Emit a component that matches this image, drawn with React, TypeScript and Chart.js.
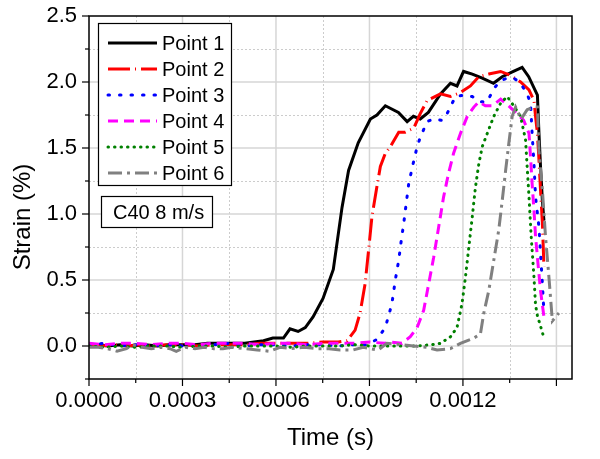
import React, { useEffect, useRef } from 'react';
import { Chart, registerables } from 'chart.js';

Chart.register(...registerables);

const FONT = '"Liberation Sans", Arial, Helvetica, sans-serif';

const SERIES_NAMES = ['Point 1', 'Point 2', 'Point 3', 'Point 4', 'Point 5', 'Point 6'];
const SERIES_COLORS = ['#000000', '#ff0000', '#0000ff', '#ff00ff', '#008000', '#808080'];
const SERIES_DASH: number[][] = [[], [22, 5, 1, 5], [1.5, 10], [10, 6], [0.5, 6], [14, 5, 3, 5]];
const SERIES_CAP = ['butt', 'butt', 'round', 'butt', 'round', 'butt'];

const X_TICKS = [0, 0.0003, 0.0006, 0.0009, 0.0012, 0.0015];
const X_MINOR = [0.00015, 0.00045, 0.00075, 0.00105, 0.00135];
const Y_TICKS = [0, 0.5, 1.0, 1.5, 2.0, 2.5];
const Y_MINOR = [-0.25, 0.25, 0.75, 1.25, 1.75, 2.25];

const P1_T = [0, 0.00003, 0.00006, 0.0001, 0.00014, 0.00018, 0.00022, 0.00026, 0.0003, 0.00034, 0.00038, 0.00042, 0.00046, 0.0005, 0.00053, 0.00056, 0.00059, 0.000613, 0.000624, 0.000645, 0.000671, 0.000694, 0.000719, 0.000751, 0.000784, 0.000812, 0.000833, 0.000864, 0.000903, 0.000924, 0.000951, 0.000993, 0.001021, 0.001041, 0.001063, 0.001089, 0.001128, 0.00116, 0.001181, 0.001202, 0.00123, 0.001262, 0.001298, 0.001326, 0.001362, 0.00139, 0.001411, 0.001439, 0.001444, 0.001449, 0.001455, 0.00146];
const P1_S = [0.00, 0.01, 0.00, 0.01, 0.00, 0.01, 0.00, 0.01, 0.01, 0.01, 0.02, 0.02, 0.02, 0.02, 0.03, 0.04, 0.06, 0.06, 0.06, 0.13, 0.11, 0.14, 0.22, 0.36, 0.58, 1.05, 1.33, 1.54, 1.72, 1.75, 1.82, 1.77, 1.70, 1.74, 1.72, 1.77, 1.91, 1.99, 1.97, 2.08, 2.06, 2.03, 1.99, 2.04, 2.08, 2.11, 2.04, 1.90, 1.61, 1.36, 1.10, 0.95];

const P2_T = [0, 0.00004, 0.00008, 0.00012, 0.00016, 0.0002, 0.00025, 0.0003, 0.00035, 0.0004, 0.00045, 0.0005, 0.00055, 0.0006, 0.00065, 0.0007, 0.00075, 0.0008, 0.000828, 0.000854, 0.00087, 0.000886, 0.000897, 0.000908, 0.000922, 0.000935, 0.000951, 0.000967, 0.000994, 0.001015, 0.001042, 0.001063, 0.001085, 0.001128, 0.00116, 0.001192, 0.001224, 0.001251, 0.001283, 0.001321, 0.001353, 0.001385, 0.001412, 0.001428, 0.001433, 0.001439, 0.001444, 0.001449, 0.001455, 0.00146];
const P2_S = [0.01, 0.00, 0.01, 0.00, 0.01, 0.00, 0.01, 0.01, 0.00, 0.01, 0.01, 0.01, 0.02, 0.02, 0.02, 0.02, 0.03, 0.03, 0.04, 0.12, 0.25, 0.47, 0.72, 0.98, 1.18, 1.36, 1.46, 1.51, 1.62, 1.62, 1.65, 1.76, 1.86, 1.91, 1.89, 1.92, 1.97, 2.04, 2.06, 2.08, 2.05, 2.00, 1.94, 1.86, 1.74, 1.61, 1.41, 1.18, 0.93, 0.60];

const P3_T = [0, 0.00005, 0.0001, 0.00015, 0.0002, 0.00025, 0.0003, 0.00035, 0.0004, 0.00045, 0.0005, 0.00055, 0.0006, 0.00065, 0.0007, 0.00075, 0.0008, 0.00085, 0.000892, 0.000924, 0.000951, 0.000972, 0.000983, 0.000994, 0.001001, 0.00101, 0.001018, 0.001026, 0.00104, 0.001053, 0.001063, 0.001085, 0.001106, 0.001133, 0.001149, 0.001176, 0.001203, 0.00123, 0.001256, 0.001278, 0.001299, 0.001321, 0.001342, 0.001363, 0.001385, 0.001406, 0.001417, 0.001422, 0.001428, 0.001433, 0.001444, 0.001449, 0.001455, 0.00146];
const P3_S = [0.01, 0.02, 0.00, 0.01, 0.00, 0.01, 0.00, 0.01, 0.01, 0.02, 0.00, 0.01, 0.01, 0.00, 0.01, 0.01, 0.00, 0.01, 0.01, 0.05, 0.14, 0.32, 0.50, 0.65, 0.78, 0.93, 1.08, 1.23, 1.38, 1.51, 1.58, 1.70, 1.72, 1.71, 1.76, 1.89, 1.90, 1.89, 1.85, 1.85, 1.95, 2.01, 2.03, 2.03, 1.99, 1.91, 1.84, 1.61, 1.38, 1.13, 0.90, 0.70, 0.47, 0.25];

const P4_T = [0, 0.00005, 0.0001, 0.00015, 0.0002, 0.00025, 0.0003, 0.00035, 0.0004, 0.00045, 0.0005, 0.00055, 0.0006, 0.00065, 0.0007, 0.00075, 0.0008, 0.00085, 0.0009, 0.00095, 0.000967, 0.001004, 0.001031, 0.001053, 0.001074, 0.00109, 0.001106, 0.001122, 0.001138, 0.001154, 0.00117, 0.001192, 0.001214, 0.001235, 0.001251, 0.001272, 0.001294, 0.001321, 0.001342, 0.001369, 0.001395, 0.001412, 0.001417, 0.001422, 0.001428, 0.001433, 0.001441, 0.001449, 0.00146];
const P4_S = [0.02, 0.01, 0.02, 0.02, 0.01, 0.02, 0.02, 0.01, 0.02, 0.02, 0.02, 0.01, 0.02, 0.02, 0.01, 0.02, 0.02, 0.02, 0.03, 0.02, 0.03, 0.02, 0.07, 0.14, 0.27, 0.47, 0.67, 0.90, 1.13, 1.31, 1.46, 1.61, 1.74, 1.81, 1.85, 1.82, 1.82, 1.87, 1.83, 1.77, 1.71, 1.61, 1.43, 1.23, 1.03, 0.83, 0.62, 0.42, 0.22];

const P5_T = [0, 0.00005, 0.0001, 0.00015, 0.0002, 0.00025, 0.0003, 0.00035, 0.0004, 0.00045, 0.0005, 0.00055, 0.0006, 0.00065, 0.0007, 0.00075, 0.0008, 0.00085, 0.0009, 0.00095, 0.001, 0.00105, 0.0011, 0.001128, 0.00116, 0.001181, 0.001197, 0.001208, 0.001219, 0.00123, 0.00124, 0.001251, 0.001262, 0.001278, 0.001299, 0.001321, 0.001342, 0.001363, 0.001385, 0.001401, 0.001406, 0.001412, 0.001419, 0.001428, 0.001433, 0.001439, 0.001449, 0.001454, 0.00146];
const P5_S = [0.00, -0.01, 0.00, -0.01, 0.00, 0.00, -0.01, 0.00, 0.00, -0.01, 0.00, 0.00, 0.00, -0.01, 0.00, 0.00, 0.00, 0.01, 0.00, 0.00, 0.00, 0.00, 0.01, 0.02, 0.07, 0.14, 0.32, 0.52, 0.75, 0.98, 1.20, 1.38, 1.51, 1.61, 1.74, 1.84, 1.89, 1.82, 1.74, 1.56, 1.36, 1.13, 0.83, 0.52, 0.31, 0.23, 0.15, 0.11, 0.06];

const P6_T = [0, 0.00003, 0.00006, 0.000076, 0.00009, 0.00012, 0.00014, 0.00017, 0.0002, 0.00023, 0.00026, 0.00028, 0.00031, 0.00034, 0.00037, 0.0004, 0.00043, 0.00046, 0.0005, 0.00054, 0.00058, 0.000613, 0.00065, 0.00069, 0.00073, 0.00077, 0.000806, 0.000848, 0.00088, 0.000903, 0.000928, 0.000956, 0.001, 0.001041, 0.001085, 0.001117, 0.00116, 0.001192, 0.001235, 0.001256, 0.001267, 0.001283, 0.001299, 0.001315, 0.001326, 0.001337, 0.001347, 0.001358, 0.001369, 0.001387, 0.001406, 0.001428, 0.001439, 0.001444, 0.001455, 0.001465, 0.001476, 0.001487, 0.001508];
const P6_S = [-0.01, -0.01, -0.02, -0.03, -0.04, -0.02, 0.01, -0.01, -0.02, -0.01, -0.02, -0.04, -0.01, -0.02, -0.01, -0.02, -0.02, -0.01, -0.02, -0.03, -0.04, -0.01, -0.02, -0.01, -0.02, -0.02, -0.03, -0.03, -0.01, -0.02, -0.03, 0.02, 0.01, 0.00, -0.01, -0.03, -0.02, 0.02, 0.06, 0.09, 0.25, 0.42, 0.65, 0.88, 1.10, 1.33, 1.53, 1.74, 1.81, 1.72, 1.79, 1.81, 1.81, 1.48, 1.18, 0.83, 0.52, 0.19, 0.25];

const SERIES_T = [P1_T, P2_T, P3_T, P4_T, P5_T, P6_T];
const SERIES_S = [P1_S, P2_S, P3_S, P4_S, P5_S, P6_S];

const ANNOTATION = 'C40 8 m/s';
const X_TITLE = 'Time (s)';
const Y_TITLE = 'Strain (%)';

function line(ctx: CanvasRenderingContext2D, x1: number, y1: number, x2: number, y2: number) {
  ctx.beginPath();
  ctx.moveTo(x1, y1);
  ctx.lineTo(x2, y2);
  ctx.stroke();
}

const framePlugin = {
  id: 'originFrame',
  beforeDatasetsDraw(chart: any) {
    const { ctx, chartArea: a } = chart;
    const xs = chart.scales.x;
    const ys = chart.scales.y;
    ctx.save();
    ctx.lineWidth = 1;
    ctx.strokeStyle = '#cccccc';
    ctx.setLineDash([2, 2]);
    X_MINOR.forEach((v) => {
      const p = Math.round(xs.getPixelForValue(v)) + 0.5;
      line(ctx, p, a.top, p, a.bottom);
    });
    Y_MINOR.forEach((v) => {
      const p = Math.round(ys.getPixelForValue(v)) + 0.5;
      if (p > a.top + 1 && p < a.bottom - 1) line(ctx, a.left, p, a.right, p);
    });
    ctx.setLineDash([]);
    ctx.strokeStyle = '#d6d6d6';
    ctx.lineWidth = 1.5;
    X_TICKS.forEach((v) => {
      const p = xs.getPixelForValue(v);
      if (p > a.left + 1 && p < a.right - 1) line(ctx, p, a.top, p, a.bottom);
    });
    Y_TICKS.forEach((v) => {
      const p = ys.getPixelForValue(v);
      if (p > a.top + 1 && p < a.bottom - 1) line(ctx, a.left, p, a.right, p);
    });
    ctx.restore();
  },
  afterDatasetsDraw(chart: any) {
    const { ctx, chartArea: a } = chart;
    const xs = chart.scales.x;
    const ys = chart.scales.y;
    ctx.save();
    ctx.strokeStyle = '#000';
    ctx.lineWidth = 1.5;
    ctx.setLineDash([]);
    ctx.strokeRect(a.left, a.top, a.right - a.left, a.bottom - a.top);
    ctx.lineWidth = 1.2;
    X_TICKS.forEach((v) => {
      const p = xs.getPixelForValue(v);
      line(ctx, p, a.bottom, p, a.bottom + 7);
    });
    X_MINOR.forEach((v) => {
      const p = xs.getPixelForValue(v);
      line(ctx, p, a.bottom, p, a.bottom + 4);
    });
    Y_TICKS.forEach((v) => {
      const p = ys.getPixelForValue(v);
      line(ctx, a.left - 7, p, a.left, p);
    });
    Y_MINOR.forEach((v) => {
      const p = ys.getPixelForValue(v);
      line(ctx, a.left - 4, p, a.left, p);
    });
    ctx.restore();
  },
  afterDraw(chart: any) {
    const { ctx, chartArea: a } = chart;
    ctx.save();
    // legend
    const lx = a.left + 9;
    const ly = a.top + 7;
    const lw = 133;
    const lh = 162;
    ctx.fillStyle = '#fff';
    ctx.fillRect(lx, ly, lw, lh);
    ctx.strokeStyle = '#000';
    ctx.lineWidth = 1.2;
    ctx.strokeRect(lx + 0.5, ly + 0.5, lw, lh);
    ctx.font = `20px ${FONT}`;
    ctx.textBaseline = 'middle';
    ctx.textAlign = 'left';
    chart.data.datasets.forEach((ds: any, i: number) => {
      const y = ly + 20 + i * 26;
      ctx.save();
      ctx.strokeStyle = ds.borderColor;
      ctx.lineWidth = 3;
      ctx.setLineDash(ds.borderDash || []);
      ctx.lineCap = ds.borderCapStyle || 'butt';
      line(ctx, lx + 10, y, lx + 59, y);
      ctx.restore();
      ctx.fillStyle = '#000';
      ctx.fillText(ds.label, lx + 64, y + 1);
    });
    // annotation box
    const bx = a.left + 12;
    const by = a.top + 180;
    ctx.fillStyle = '#fff';
    ctx.fillRect(bx, by, 111, 31);
    ctx.strokeStyle = '#000';
    ctx.lineWidth = 1.2;
    ctx.strokeRect(bx + 0.5, by + 0.5, 111, 31);
    ctx.fillStyle = '#000';
    ctx.font = `20px ${FONT}`;
    ctx.fillText(ANNOTATION, bx + 12, by + 17);
    // axis titles
    ctx.font = `24px ${FONT}`;
    ctx.textAlign = 'center';
    ctx.fillText(X_TITLE, (a.left + a.right) / 2, 438);
    ctx.translate(23, 217);
    ctx.rotate(-Math.PI / 2);
    ctx.fillText(Y_TITLE, 0, 0);
    ctx.restore();
  },
};

export default function App() {
  const ref = useRef<HTMLCanvasElement | null>(null);
  useEffect(() => {
    if (!ref.current) return;
    const datasets = SERIES_NAMES.map((name, i) => {
      const t = SERIES_T[i];
      const s = SERIES_S[i];
      const n = Math.min(t.length, s.length);
      const data = [] as { x: number; y: number }[];
      for (let k = 0; k < n; k++) data.push({ x: t[k], y: s[k] });
      return {
        label: name,
        data,
        showLine: true,
        borderColor: SERIES_COLORS[i],
        backgroundColor: SERIES_COLORS[i],
        borderWidth: 3,
        borderDash: SERIES_DASH[i],
        borderCapStyle: SERIES_CAP[i],
        pointRadius: 0,
        tension: 0,
        fill: false,
        order: SERIES_NAMES.length - 1 - i,
      };
    });
    const chart = new Chart(ref.current, {
      type: 'scatter',
      data: { datasets: datasets as any },
      options: {
        responsive: false,
        animation: false,
        devicePixelRatio: 1,
        layout: { padding: { top: 16, right: 28, left: 0, bottom: 0 } },
        plugins: { legend: { display: false }, tooltip: { enabled: false } },
        scales: {
          x: {
            type: 'linear',
            min: 0,
            max: 0.00155,
            grid: { display: false, drawTicks: false, tickLength: 0 },
            border: { display: false },
            ticks: {
              stepSize: 0.0003,
              autoSkip: false,
              maxRotation: 0,
              padding: 9,
              color: '#000',
              font: { family: FONT, size: 22 },
              callback: (v: any) => {
                const k = Number(v) / 0.0003;
                return Math.abs(k - Math.round(k)) < 1e-6 ? Number(v).toFixed(4) : '';
              },
            },
            afterFit: (s: any) => {
              s.height = 80;
              s.paddingLeft = 0;
              s.paddingRight = 0;
            },
          },
          y: {
            type: 'linear',
            min: -0.25,
            max: 2.5,
            grid: { display: false, drawTicks: false, tickLength: 0 },
            border: { display: false },
            ticks: {
              stepSize: 0.5,
              autoSkip: false,
              padding: 12,
              color: '#000',
              font: { family: FONT, size: 22 },
              callback: (v: any) => {
                const n = Number(v);
                const k = n / 0.5;
                return n > -1e-9 && Math.abs(k - Math.round(k)) < 1e-6 ? n.toFixed(1) : '';
              },
            },
            afterFit: (s: any) => {
              s.width = 89;
              s.paddingTop = 0;
              s.paddingBottom = 0;
            },
          },
        },
      },
      plugins: [framePlugin],
    });
    return () => chart.destroy();
  }, []);
  return (
    <div style={{ position: 'fixed', left: 0, top: 0, width: 600, height: 459, background: '#fff' }}>
      <canvas ref={ref} width={600} height={459} style={{ display: 'block', width: 600, height: 459 }} />
    </div>
  );
}
